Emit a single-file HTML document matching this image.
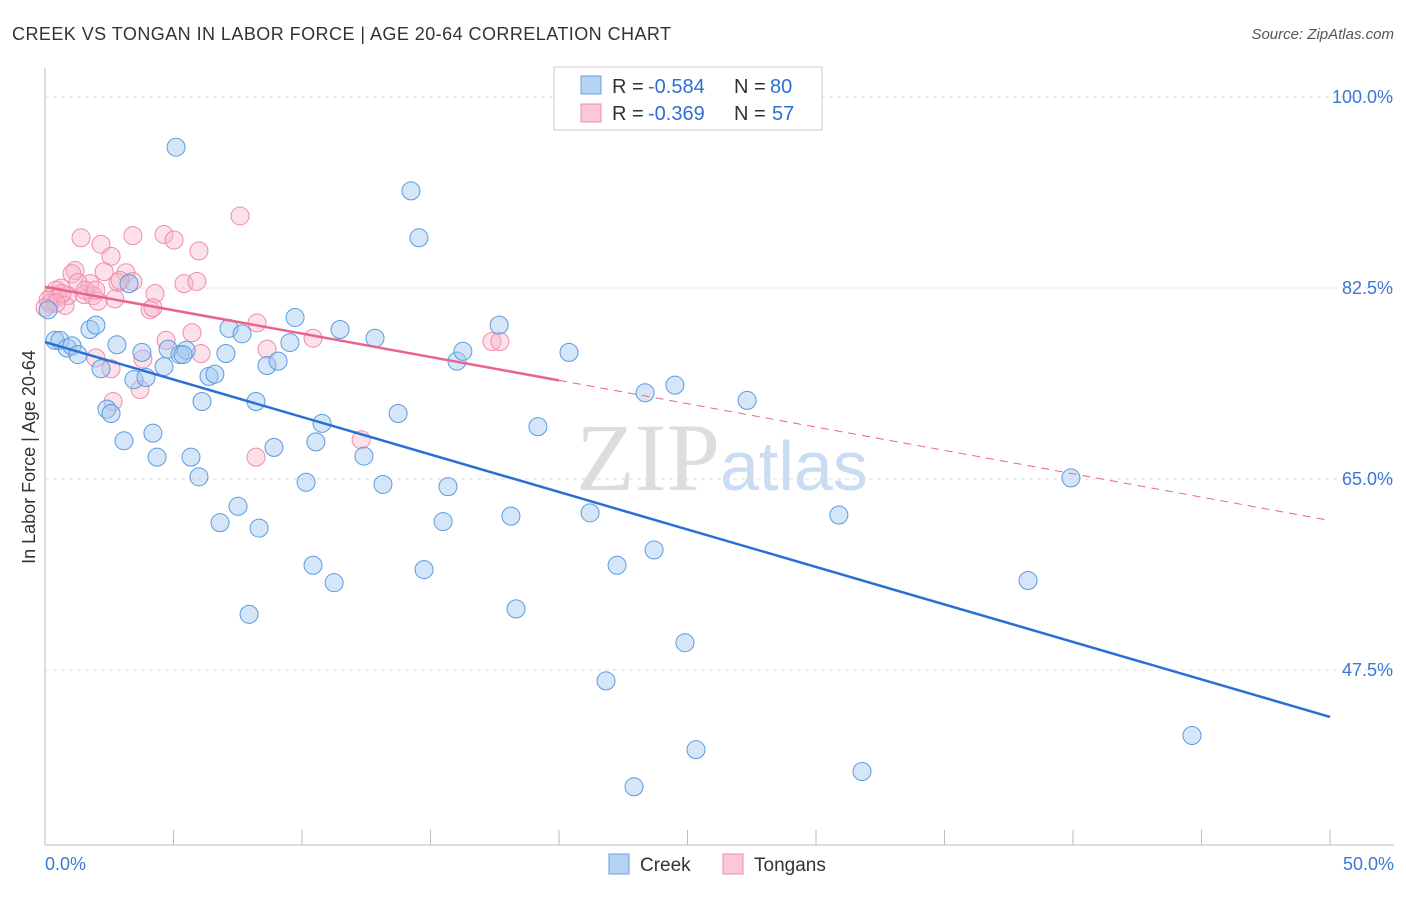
<!DOCTYPE html>
<html><head><meta charset="utf-8"><style>
body{margin:0;background:#fff;font-family:"Liberation Sans",sans-serif}
#wrap{position:relative;width:1406px;height:892px}
</style></head><body>
<div id="wrap">
<svg id="svg" width="1406" height="892">
<text x="12" y="40" font-size="18" fill="#333" letter-spacing="0.45">CREEK VS TONGAN IN LABOR FORCE | AGE 20-64 CORRELATION CHART</text>
<text x="1394" y="39" font-size="15" fill="#555" text-anchor="end" font-style="italic">Source: ZipAtlas.com</text>
<text x="35" y="457" font-size="18" fill="#333" text-anchor="middle" transform="rotate(-90 35 457)">In Labor Force | Age 20-64</text>
<text x="720" y="490" font-size="96" fill="#ddd" text-anchor="end" font-family="Liberation Serif">ZIP</text>
<text x="720" y="490" font-size="70" fill="#c9dcf2">atlas</text>
<g id="grid"></g><g id="marks"></g>
<g>
<rect x="554" y="67" width="268" height="63" fill="#fff" stroke="#ccc"/>
<rect x="581" y="76" width="20" height="18" fill="#b6d2f4" stroke="#6aa0e0"/>
<rect x="581" y="104" width="20" height="18" fill="#fbc8d6" stroke="#f08cab"/>
<text x="612" y="93" font-size="20" fill="#333">R =</text>
<text x="648" y="93" font-size="20" fill="#2f6fd4">-0.584</text>
<text x="734" y="93" font-size="20" fill="#333">N =</text>
<text x="770" y="93" font-size="20" fill="#2f6fd4">80</text>
<text x="612" y="120" font-size="20" fill="#333">R =</text>
<text x="648" y="120" font-size="20" fill="#2f6fd4">-0.369</text>
<text x="734" y="120" font-size="20" fill="#333">N =</text>
<text x="772" y="120" font-size="20" fill="#2f6fd4">57</text>
</g>
<g>
<rect x="609" y="854" width="20" height="20" fill="#b6d2f4" stroke="#6aa0e0"/>
<text x="640" y="871" font-size="19" fill="#333">Creek</text>
<rect x="723" y="854" width="20" height="20" fill="#fbc8d6" stroke="#f08cab"/>
<text x="754" y="871" font-size="19" fill="#333">Tongans</text>
</g>
</svg></div>
<script>
const yTicks=[100,82.5,65,47.5];
const xTickLabels=["0.0%","50.0%"];
const creekX=[5.10,14.24,14.55,0.39,0.58,0.86,1.05,1.28,1.75,1.98,2.80,2.18,2.41,2.57,3.07,3.27,3.46,3.77,3.93,4.20,4.36,4.63,4.79,5.25,5.49,5.68,5.99,6.11,6.38,6.61,6.81,7.04,7.16,7.51,7.67,7.94,8.21,8.33,8.64,8.91,9.07,9.53,9.73,10.16,10.43,10.54,10.78,11.25,11.48,12.41,12.84,13.15,13.74,14.75,15.49,15.68,16.03,16.26,17.67,18.13,18.33,19.18,20.39,21.21,21.83,22.26,22.92,23.35,23.70,24.51,24.90,25.33,27.32,30.89,31.79,38.25,39.92,44.63,5.37,0.12];
const creekY=[95.4,91.4,87.1,77.7,77.7,77.0,77.2,76.4,78.7,79.1,77.3,75.1,71.4,71.0,68.5,82.9,74.1,76.6,74.3,69.2,67.0,75.3,76.9,76.4,76.8,67.0,65.2,72.1,74.4,74.6,61.0,76.5,78.8,62.5,78.3,52.6,72.1,60.5,75.4,67.9,75.8,77.5,79.8,64.7,57.1,68.4,70.1,55.5,78.7,67.1,77.9,64.5,71.0,56.7,61.1,64.3,75.8,76.7,79.1,61.6,53.1,69.8,76.6,61.9,46.5,57.1,36.8,72.9,58.5,73.6,50.0,40.2,72.2,61.7,38.2,55.7,65.1,41.5,76.4,80.5];
const tonganX=[7.59,1.40,3.42,4.63,5.02,2.18,5.99,2.57,1.17,1.05,2.30,3.15,3.42,1.75,0.62,0.43,1.28,5.41,5.91,2.84,4.28,0.27,0.51,0.89,1.52,1.87,2.06,2.72,0.78,0.19,4.09,4.20,8.25,5.72,4.71,10.43,6.07,8.64,1.98,3.81,2.57,3.70,2.65,12.30,8.21,17.39,17.70,0.12,0.66,1.56,2.92,1.98,0.43,0];
const tonganY=[89.1,87.1,87.3,87.4,86.9,86.5,85.9,85.4,84.1,83.8,84.0,83.9,83.1,82.9,82.5,82.3,83.0,82.9,83.1,83.0,82.0,81.8,81.7,81.8,81.9,81.8,81.3,81.5,80.9,81.1,80.5,80.7,79.3,78.4,77.7,77.9,76.5,76.9,76.1,76.0,75.1,73.2,72.1,68.6,67.0,77.6,77.6,81.4,82.0,82.3,83.2,82.3,81.1,80.7];
const creekTrend=[77.55,43.2];
const tonganTrend=[82.6,61.2];
const tonganSolidEnd=20;
const X0=45,X1=1330,YTOP=97,PX=191/17.5;
const xs=v=>X0+(v/50)*(X1-X0);
const ys=v=>YTOP+(100-v)*PX;
const NS="http://www.w3.org/2000/svg";
const grid=document.getElementById('grid'),marks=document.getElementById('marks');
function mk(tag,attrs,parent){const e=document.createElementNS(NS,tag);for(const k in attrs)e.setAttribute(k,attrs[k]);parent.appendChild(e);return e;}
let ax=mk('line',{x1:45,y1:68,x2:45,y2:845,stroke:'#bbb'},grid);


let bx=mk('line',{x1:45,y1:845,x2:1394,y2:845,stroke:'#bbb'},grid);


for(let i=0;i<=10;i++){const x=X0+i*(X1-X0)/10;let t=mk('line',{x1:x,y1:830,x2:x,y2:845,stroke:'#bbb'},grid);

}
yTicks.forEach(v=>{const y=ys(v);let g=mk('line',{x1:45,y1:y,x2:1394,y2:y,stroke:'#ddd','stroke-dasharray':'4,4'},grid);


let t=mk('text',{x:1393,y:y+6,'font-size':18,fill:'#3a78d4','text-anchor':'end'},grid);t.textContent=v.toFixed(1)+'%';

});
[[0,'start',45],[1,'end',1394]].forEach(([i,a,x])=>{let t=mk('text',{x:x,y:870,'font-size':18,fill:'#3a78d4','text-anchor':a},grid);t.textContent=xTickLabels[i];

});
tonganX.forEach((v,i)=>{let c=mk('circle',{cx:xs(v),cy:ys(tonganY[i]),r:9,fill:'rgba(248,180,200,0.4)',stroke:'#f08cab','stroke-width':1},marks);

});
creekX.forEach((v,i)=>{let c=mk('circle',{cx:xs(v),cy:ys(creekY[i]),r:9,fill:'rgba(160,200,240,0.45)',stroke:'#5b9be0','stroke-width':1},marks);

});
const tAt=x=>tonganTrend[0]+(tonganTrend[1]-tonganTrend[0])*x/50;
let l1=mk('line',{x1:xs(0),y1:ys(creekTrend[0]),x2:xs(50),y2:ys(creekTrend[1]),stroke:'#2a6fd6','stroke-width':2.5},marks);


let l2=mk('line',{x1:xs(0),y1:ys(tAt(0)),x2:xs(tonganSolidEnd),y2:ys(tAt(tonganSolidEnd)),stroke:'#e8648f','stroke-width':2.5},marks);


let l3=mk('line',{x1:xs(tonganSolidEnd),y1:ys(tAt(tonganSolidEnd)),x2:xs(50),y2:ys(tAt(50)),stroke:'#e8648f','stroke-width':1,'stroke-dasharray':'8,6'},marks);


</script>
</body></html>
